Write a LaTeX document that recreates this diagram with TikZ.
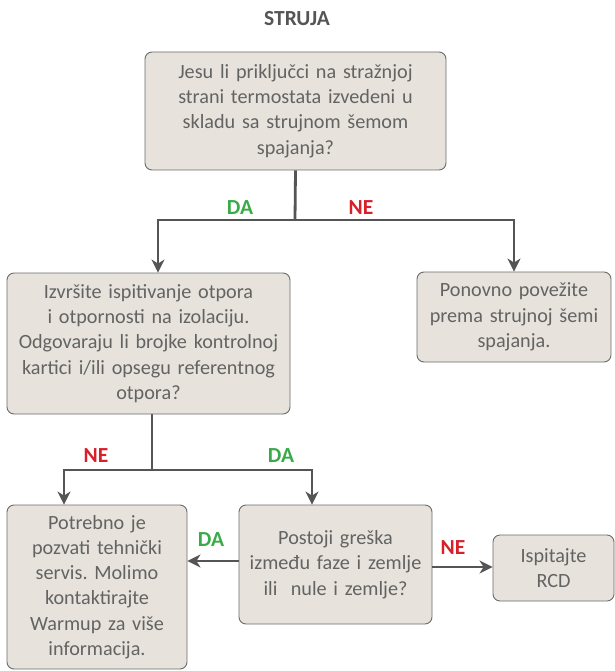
\documentclass[tikz,border=0pt]{standalone}
\usepackage{fontspec}
\setmainfont{Carlito}
\usepackage{tikz}
\usetikzlibrary{calc}
\usetikzlibrary{arrows.meta}
\frenchspacing
\definecolor{boxfill}{HTML}{E7E3DC}
\definecolor{boxline}{HTML}{6B6B6B}
\definecolor{txtgray}{HTML}{636363}
\definecolor{linegray}{HTML}{555555}
\definecolor{dagreen}{HTML}{3AAA48}
\definecolor{nered}{HTML}{D7202A}
\tikzset{
  qbox/.style={draw=boxline,line width=0.9pt,fill=boxfill,rounded corners=7pt,align=center,
    text=txtgray,font=\fontsize{20.2}{25.3}\selectfont,inner sep=0pt},
  conn/.style={draw=linegray,line width=2.8pt},
  arr/.style={conn,-{Stealth[length=13pt,width=13pt,inset=4pt]}},
  ans/.style={font=\fontsize{21.5}{24}\selectfont\bfseries}
}

\begin{document}
\begin{tikzpicture}[line cap=butt,line join=miter,x=1pt,y=1pt]
\useasboundingbox (0,0) rectangle (614,-671);
\node[font=\fontsize{21.5}{24}\selectfont\bfseries,text=linegray] (title) at (297,-19) {STRUJA};
\node[qbox,minimum width=301,minimum height=118,text width=295] (b1) at (295.5,-111)
  {Jesu li priključci na stražnjoj\\strani termostata izvedeni u\\skladu sa strujnom šemom\\spajanja?};
\node[qbox,minimum width=283,minimum height=141,text width=280] (b2) at (148.5,-343.5)
  {Izvršite ispitivanje otpora\\i otpornosti na izolaciju.\\Odgovaraju li brojke kontrolnoj\\kartici i/ili opsegu referentnog\\otpora?};
\node[qbox,minimum width=194,minimum height=90,text width=190] (b3) at (514,-317)
  {Ponovno povežite\\prema strujnoj šemi\\spajanja.};
\node[qbox,minimum width=180,minimum height=164,text width=176] (b4) at (97,-587)
  {Potrebno je\\pozvati tehnički\\servis. Molimo\\kontaktirajte\\Warmup za više\\informacija.};
\node[qbox,minimum width=193,minimum height=119,text width=190] (b5) at (335.5,-564.5)
  {Postoji greška\\između faze i zemlje\\ili\ \ nule i zemlje?};
\node[qbox,minimum width=121,minimum height=66,text width=117] (b6) at (553.5,-568)
  {Ispitajte\\RCD};
\coordinate (j1) at (295,-220);
\coordinate (j2) at (152,-470);
\draw[conn] (b1.south) -- (j1);
\draw[arr] (j1) -| ([xshift=9.5]b2.north);
\draw[arr] (j1) -| (b3.north);
\draw[conn] ([xshift=3.5]b2.south) -- (j2);
\draw[arr] (j2) -| ([xshift=-33]b4.north);
\draw[arr] (j2) -| ([xshift=-23.5]b5.north);
\draw[arr] ([yshift=3.5]b5.west) -- ([yshift=3.5]b5.west -| b4.east);
\draw[arr] ([yshift=-2.5]b5.east) -- ([yshift=-2.5]b5.east -| b6.west);
\node[ans,text=dagreen] (da1) at (240,-208) {DA};
\node[ans,text=nered] (ne1) at (361,-208) {NE};
\node[ans,text=nered] (ne2) at (96,-456) {NE};
\node[ans,text=dagreen] (da2) at (281,-456) {DA};
\node[ans,text=dagreen] (da3) at (211,-540) {DA};
\node[ans,text=nered] (ne3) at (453,-548) {NE};
\end{tikzpicture}
\end{document}
